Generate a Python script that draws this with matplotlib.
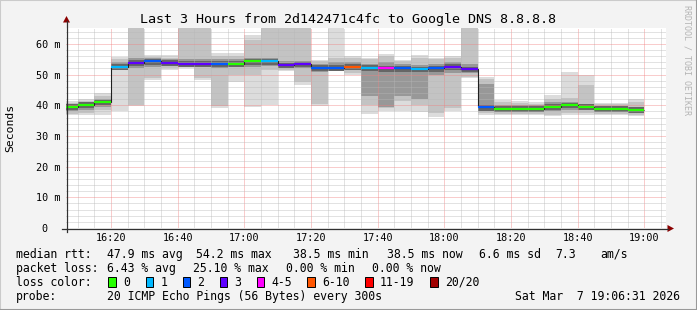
import matplotlib
matplotlib.use("Agg")
import matplotlib.pyplot as plt
import numpy as np
from matplotlib.patches import Rectangle, Polygon
from matplotlib.lines import Line2D

# --- data (minutes after 16:00, one bin every 5 min starting 16:05) ---
bin_first = 5
bin_step = 5
median_ms = [39.5, 40.2, 41.0, 52.6, 53.9, 54.3, 53.9, 53.6, 53.6, 53.6, 53.6, 54.3,
             54.3, 53.1, 53.4, 52.3, 52.3, 52.6, 52.3, 52.0, 52.0, 51.7, 52.0, 52.6,
             51.7, 39.3, 38.9, 38.9, 38.9, 39.6, 40.0, 39.5, 38.9, 38.9, 38.5]
loss_class = ["0", "0", "0", "1", "3", "2", "3", "3", "3", "2", "0", "0",
              "1", "3", "3", "2", "2", "6-10", "1", "4-5", "2", "1", "2", "3",
              "3", "2", "0", "0", "0", "0", "0", "0", "0", "0", "0"]
smoke_min = [36.7, 36.7, 36.7, 38.0, 39.7, 48.2, 51.6, 52.2, 48.4, 39.1, 47.6, 39.3,
             40.2, 51.1, 46.5, 39.7, 51.1, 50.0, 37.2, 38.2, 38.0, 37.8, 36.1, 38.2,
             48.9, 36.9, 36.7, 36.7, 36.7, 36.4, 36.7, 36.7, 36.9, 36.9, 36.4]
smoke_max = [41.5, 42.2, 44.0, 55.7, 66.0, 56.5, 56.3, 66.0, 66.0, 57.1, 57.1, 63.0,
             66.0, 66.0, 66.0, 54.9, 66.0, 56.0, 55.4, 56.7, 54.9, 56.5, 55.4, 56.0,
             66.0, 49.2, 41.8, 41.3, 41.1, 43.5, 50.9, 50.0, 40.9, 40.9, 42.2]
mid_lo = [37.3, 37.5, 38.5, 51.5, 40.0, 49.0, 52.0, 52.5, 49.0, 39.8, 50.0, 49.8,
          51.5, 51.5, 47.5, 40.5, 51.5, 50.5, 40.0, 39.0, 41.5, 40.0, 37.5, 39.0,
          49.3, 37.5, 37.3, 37.3, 37.3, 37.0, 37.5, 37.5, 37.3, 37.3, 37.0]
mid_hi = [40.8, 41.5, 43.0, 55.2, 66.0, 55.8, 55.5, 66.0, 66.0, 56.0, 56.0, 61.3,
          66.0, 66.0, 66.0, 54.5, 55.5, 55.5, 55.0, 56.0, 54.5, 55.5, 55.0, 55.5,
          66.0, 48.5, 41.0, 40.8, 40.5, 42.0, 42.5, 46.5, 40.3, 40.3, 41.0]
core_lo = [38.0, 38.5, 39.5, 51.8, 52.0, 52.5, 52.8, 53.0, 52.5, 52.0, 52.5, 52.5,
           52.8, 52.0, 52.0, 51.0, 52.0, 51.5, 43.0, 39.5, 43.0, 42.0, 50.0, 50.5,
           50.5, 38.0, 38.0, 38.0, 38.0, 38.0, 38.5, 38.5, 38.0, 38.0, 37.8]
core_hi = [40.3, 41.0, 42.0, 54.0, 55.5, 55.5, 55.0, 55.0, 55.0, 55.0, 55.0, 55.5,
           55.5, 54.5, 54.5, 53.5, 54.0, 54.0, 53.5, 54.0, 53.5, 53.0, 53.5, 54.0,
           53.5, 47.0, 40.0, 40.0, 40.0, 41.0, 41.0, 40.5, 39.8, 39.8, 39.5]

x_ticks = [20, 40, 60, 80, 100, 120, 140, 160, 180]
x_labels = ["16:20", "16:40", "17:00", "17:20", "17:40", "18:00", "18:20", "18:40", "19:00"]
y_ticks = [0, 10, 20, 30, 40, 50, 60]
y_labels = ["0  ", "10 m", "20 m", "30 m", "40 m", "50 m", "60 m"]
x_start, x_end = 6 + 31 / 60, 186 + 31 / 60

loss_names = ["0", "1", "2", "3", "4-5", "6-10", "11-19", "20/20"]
loss_colors = ["#26ff00", "#00b8ff", "#0059ff", "#5e00ff", "#ff00ff", "#ff5500", "#ff0000", "#a10000"]
loss_map = dict(zip(loss_names, loss_colors))

title = "Last 3 Hours from 2d142471c4fc to Google DNS 8.8.8.8"
legend_rows = [
    (254.3, [(16, "median rtt:"), (107.3, "47.9 ms avg"), (195.7, "54.2 ms max"), (292.7, "38.5 ms min"),
             (386.7, "38.5 ms now"), (479, "6.6 ms sd"), (555.6, "7.3"), (600, "am/s")]),
    (268.3, [(16, "packet loss:"), (107.3, "6.43 % avg"), (192.7, "25.10 % max"), (286, "0.00 % min"),
             (372.4, "0.00 % now")]),
    (296.5, [(16, "probe:"), (107.3, "20 ICMP Echo Pings (56 Bytes) every 300s")]),
]
date_text = "Sat Mar  7 19:06:31 2026"

# --- styles ---
W, H = 697, 310
BACK = "#f3f3f3"
plt.rcParams['font.family'] = ['DejaVu Sans Mono']


def fx(x):
    return x / W


def fy(y):
    return 1 - y / H


fig = plt.figure(figsize=(W / 100, H / 100), dpi=100)
fig.patch.set_facecolor(BACK)
ax = fig.add_axes([fx(66), fy(228), 600 / W, 200 / H])
ax.set_facecolor("white")

starts = bin_first + bin_step * np.arange(len(median_ms))
edges = np.append(starts, starts[-1] + bin_step)
med = np.array(median_ms)

# smoke layers, outer to inner
layers = [(smoke_min, smoke_max, "#dcdcdc"),
          (mid_lo, mid_hi, "#c3c3c3"),
          (core_lo, core_hi, "#989898"),
          (med - 1.0, med + 0.8, "#666666")]
for lo, hi, col in layers:
    lo = np.array(lo)
    hi = np.array(hi)
    ax.bar(starts, hi - lo, bottom=lo, width=bin_step, align='edge',
           color=col, linewidth=0, zorder=1)

ax.stairs(med, edges, baseline=None, color="#202020", lw=0.8, zorder=5)
ax.hlines(med, starts, starts + bin_step, colors=[loss_map[c] for c in loss_class],
          lw=1.6, zorder=6)

ax.set_xlim(x_start, x_end)
ax.set_ylim(0, 65.2)
ax.set_xticks(x_ticks)
ax.set_xticklabels(x_labels)
ax.set_xticks(np.arange(10, 186, 5), minor=True)
ax.set_yticks(y_ticks)
ax.set_yticklabels(y_labels)
ax.set_yticks(np.arange(2, 65, 2), minor=True)
ax.set_axisbelow(False)
ax.grid(which='minor', color="#b8b8b8", linestyle=(0, (1, 1)), lw=0.72, alpha=0.8)
ax.grid(which='major', color="#f08080", linestyle=(0, (1, 1)), lw=0.72, alpha=0.8)
ax.tick_params(which='both', length=0)
ax.tick_params(axis='x', labelsize=7.3, pad=3.8)
ax.tick_params(axis='y', labelsize=7.3, pad=4.3)
for s in ax.spines.values():
    s.set_visible(False)

# axes with arrows
fig.add_artist(Line2D([fx(66.5), fx(66.5)], [fy(232), fy(21)], color="#303030", lw=0.9))
fig.add_artist(Line2D([fx(62), fx(668)], [fy(228.5), fy(228.5)], color="#303030", lw=0.9))
fig.add_artist(Polygon([[fx(66.5), fy(16)], [fx(63), fy(22.5)], [fx(70), fy(22.5)]],
                       closed=True, color="#8b0000", lw=0))
fig.add_artist(Polygon([[fx(674), fy(228.5)], [fx(667.5), fy(225)], [fx(667.5), fy(232)]],
                       closed=True, color="#8b0000", lw=0))

# texts
fig.text(fx(348), fy(19), title, ha='center', va='center', fontsize=9.6)
fig.text(fx(10), fy(128), "Seconds", ha='center', va='center', rotation=90, fontsize=8.2)
fig.text(fx(687), fy(5), "RRDTOOL / TOBI OETIKER", ha='center', va='top', rotation=270,
         fontsize=6.0, color="#b4b4b4")
for y, parts in legend_rows:
    for x, s in parts:
        fig.text(fx(x), fy(y), s, ha='left', va='center', fontsize=8.3)
fig.text(fx(680), fy(296.5), date_text, ha='right', va='center', fontsize=8.3)

fig.text(fx(16), fy(282.3), "loss color:", ha='left', va='center', fontsize=8.3)
box_x = [108.3, 145.7, 182.7, 219.7, 256.7, 307.3, 365.3, 430.2]
for bx, name, col in zip(box_x, loss_names, loss_colors):
    fig.add_artist(Rectangle((fx(bx), fy(287.3)), 7.7 / W, 10 / H, facecolor=col,
                             edgecolor="black", lw=0.7))
    fig.text(fx(bx + 14.5), fy(282.3), name, ha='left', va='center', fontsize=8.3)

# frame
fig.add_artist(Line2D([0, 0, 1], [0, 1, 1], color="#cbcbcb", lw=1.5))
fig.add_artist(Line2D([0, 1, 1], [0, 0, 1], color="#999999", lw=1.5))

fig.savefig("out.png", dpi=100, facecolor=BACK)
